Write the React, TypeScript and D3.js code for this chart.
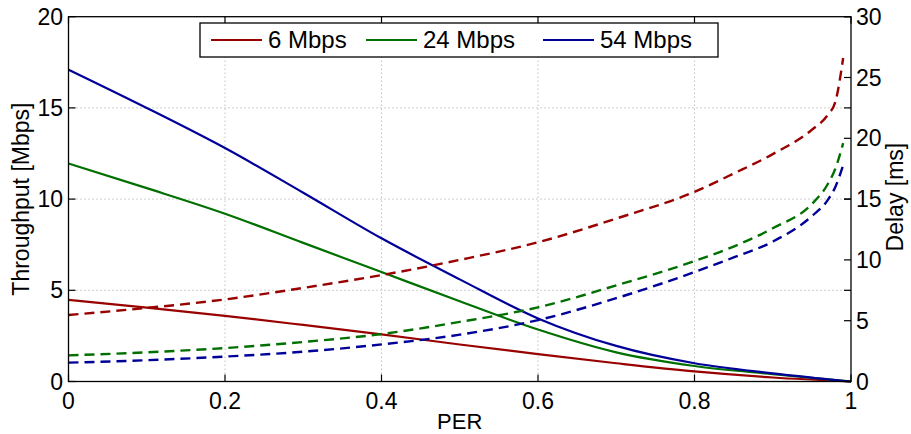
import React from "react";
import * as d3 from "d3";

// PER samples and readings
const perThr = [0, 0.1, 0.2, 0.3, 0.4, 0.5, 0.6, 0.7, 0.8, 0.9, 1];
const thr6 = [4.47, 4.05, 3.6, 3.1, 2.58, 2.03, 1.5, 1.0, 0.55, 0.22, 0];
const thr24 = [11.95, 10.6, 9.2, 7.6, 6.0, 4.4, 2.85, 1.6, 0.85, 0.4, 0];
const thr54 = [17.1, 15.0, 12.8, 10.35, 7.85, 5.6, 3.46, 1.95, 1.0, 0.45, 0];

const perDelay = [0, 0.1, 0.2, 0.3, 0.4, 0.5, 0.6, 0.7, 0.8, 0.85, 0.9, 0.95, 0.97, 0.98, 0.99];
const delay6 = [5.47, 6.05, 6.75, 7.7, 8.75, 10.0, 11.45, 13.4, 15.6, 17.1, 18.7, 20.7, 21.9, 23.0, 26.6];
const delay24 = [2.15, 2.4, 2.75, 3.25, 3.9, 4.9, 6.1, 7.9, 9.9, 11.1, 12.6, 14.6, 16.2, 17.5, 19.6];
const delay54 = [1.55, 1.75, 2.05, 2.45, 3.05, 3.85, 5.05, 6.85, 9.0, 10.2, 11.5, 13.6, 14.9, 16.0, 17.8];

const rates = ["6 Mbps", "24 Mbps", "54 Mbps"];
const colors = ["#990000", "#007000", "#000099"];

const xTicks = [0, 0.2, 0.4, 0.6, 0.8, 1];
const xTickLabels = ["0", "0.2", "0.4", "0.6", "0.8", "1"];
const yLeftTicks = [0, 5, 10, 15, 20];
const yRightTicks = [0, 5, 10, 15, 20, 25, 30];

const W = 911;
const H = 434;
const font = "'Liberation Sans', Arial, Helvetica, sans-serif";

export default function App() {
  const left = 68.5, right = 851, top = 16.7, bottom = 381.5;
  const x = d3.scaleLinear().domain([0, 1]).range([left, right]);
  const yL = d3.scaleLinear().domain([0, 20]).range([bottom, top]);
  const yR = d3.scaleLinear().domain([0, 30]).range([bottom, top]);

  const thr = [thr6, thr24, thr54];
  const del = [delay6, delay24, delay54];

  const thrLine = (vals: number[]) =>
    d3.line<number>().x((_, i) => x(perThr[i])).y((d) => yL(d)).curve(d3.curveMonotoneX)(vals) || "";
  const delLine = (vals: number[]) =>
    d3.line<number>().x((_, i) => x(perDelay[i])).y((d) => yR(d)).curve(d3.curveMonotoneX)(vals) || "";

  const tick = 7;
  const legendX = [211, 366, 543];

  return (
    <svg width={W} height={H} style={{ position: "absolute", left: 0, top: 0, background: "#fff" }} fontFamily={font}>
      <rect x={0} y={0} width={W} height={H} fill="#fff" />
      {/* grid */}
      {xTicks.slice(1, -1).map((t) => (
        <line key={"gx" + t} x1={x(t)} x2={x(t)} y1={top} y2={bottom} stroke="#a0a0a0" strokeWidth={1} strokeDasharray="1,3" />
      ))}
      {yLeftTicks.slice(1, -1).map((t) => (
        <line key={"gy" + t} x1={left} x2={right} y1={yL(t)} y2={yL(t)} stroke="#a0a0a0" strokeWidth={1} strokeDasharray="1,3" />
      ))}

      {/* series */}
      {thr.map((vals, i) => (
        <path key={"t" + i} d={thrLine(vals)} fill="none" stroke={colors[i]} strokeWidth={2.2} />
      ))}
      {del.map((vals, i) => (
        <path key={"d" + i} d={delLine(vals)} fill="none" stroke={colors[i]} strokeWidth={2.4} strokeDasharray="10,6" />
      ))}

      {/* axes box */}
      <rect x={left} y={top} width={right - left} height={bottom - top} fill="none" stroke="#000" strokeWidth={1.3} />

      {/* x ticks */}
      {xTicks.map((t, i) => (
        <g key={"xt" + t}>
          <line x1={x(t)} x2={x(t)} y1={bottom} y2={bottom - tick} stroke="#000" strokeWidth={1.2} />
          <line x1={x(t)} x2={x(t)} y1={top} y2={top + tick} stroke="#000" strokeWidth={1.2} />
          <text x={x(t)} y={409} textAnchor="middle" fontSize={23} fill="#000">
            {xTickLabels[i]}
          </text>
        </g>
      ))}

      {/* left y ticks */}
      {yLeftTicks.map((t) => (
        <g key={"yl" + t}>
          <line x1={left} x2={left + tick} y1={yL(t)} y2={yL(t)} stroke="#000" strokeWidth={1.2} />
          <line x1={right} x2={right - tick} y1={yL(t)} y2={yL(t)} stroke="#000" strokeWidth={1.2} />
          <text x={63} y={yL(t) + 8} textAnchor="end" fontSize={23} fill="#000">
            {t}
          </text>
        </g>
      ))}

      {/* right y ticks */}
      {yRightTicks.map((t) => (
        <g key={"yr" + t}>
          <line x1={right} x2={right - tick} y1={yR(t)} y2={yR(t)} stroke="#000" strokeWidth={1.2} />
          <text x={856} y={yR(t) + 8} textAnchor="start" fontSize={23} fill="#000">
            {t}
          </text>
        </g>
      ))}

      {/* axis labels */}
      <text x={459.7} y={429} textAnchor="middle" fontSize={22} fill="#000">PER</text>
      <text transform={`translate(29,${(top + bottom) / 2}) rotate(-90)`} textAnchor="middle" fontSize={23} fill="#000">
        Throughput [Mbps]
      </text>
      <text transform={`translate(903,${(top + bottom) / 2 - 2}) rotate(-90)`} textAnchor="middle" fontSize={23} fill="#000">
        Delay [ms]
      </text>

      {/* legend */}
      <rect x={200} y={23} width={518} height={34} fill="#fff" stroke="#000" strokeWidth={1.3} />
      {rates.map((r, i) => (
        <g key={r}>
          <line x1={legendX[i]} x2={legendX[i] + 51} y1={40} y2={40} stroke={colors[i]} strokeWidth={2.2} />
          <text x={legendX[i] + 57} y={48} fontSize={24} fill="#000">
            {r}
          </text>
        </g>
      ))}
    </svg>
  );
}
